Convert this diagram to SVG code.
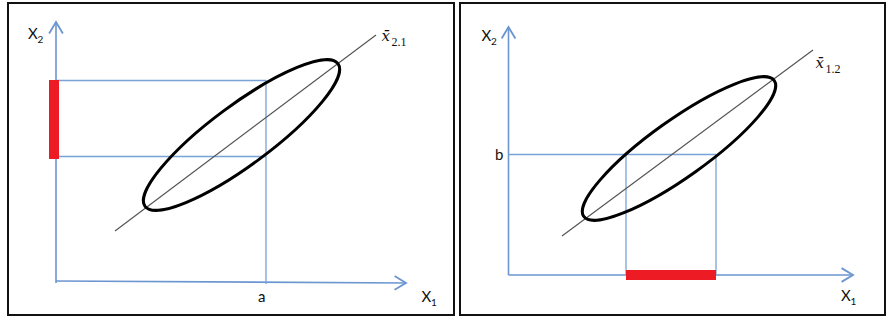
<svg xmlns="http://www.w3.org/2000/svg" width="888" height="322" viewBox="0 0 888 322">
<style>
.frame{fill:#fff;stroke:#111;stroke-width:2}
.axis{fill:none;stroke:#6b96d0;stroke-width:1.6}
.guide{fill:none;stroke:#7aa2d6;stroke-width:1.3}
.ell{fill:none;stroke:#000;stroke-width:3}
.reg{stroke:#555;stroke-width:1.2}
.bar{fill:#ed1c24}
.lbl{font-family:Lato,"Open Sans",sans-serif;font-size:15px;fill:#111}
.sub{font-family:Lato,"Open Sans",sans-serif;font-size:10px;fill:#111}
.xb{font-family:"DejaVu Serif",serif;font-style:italic;font-size:15px;fill:#111}
.xbs{font-family:"Liberation Serif",serif;font-size:12px;fill:#111}
</style>
<defs>
<marker id="arr" markerUnits="userSpaceOnUse" markerWidth="16" markerHeight="16" refX="11" refY="7" orient="auto" viewBox="0 0 14 14">
<path d="M1,1 L11,7 L1,13" fill="none" stroke="#6b96d0" stroke-width="1.6"/>
</marker>
</defs>
<rect width="888" height="322" fill="#fff"/>
<g id="panel-left">
<rect class="frame" x="8" y="3" width="446" height="312"/>
<g id="connectors-left">
<line class="axis" x1="56" y1="283" x2="56" y2="22" marker-end="url(#arr)"/>
<line class="axis" x1="56" y1="281" x2="406" y2="283" marker-end="url(#arr)"/>
<polyline class="guide" points="56,80.5 266,80.5 266,284"/>
<line class="guide" x1="56" y1="156.5" x2="266" y2="156.5"/>
<line class="reg" x1="115" y1="231" x2="376" y2="35"/>
</g>
<rect id="bar-left" class="bar" x="49" y="80" width="10" height="79"/>
<ellipse id="ellipse-left" class="ell" cx="241.5" cy="135" rx="120" ry="30" transform="rotate(-36.5 241.5 135)"/>
<text class="lbl" x="28" y="38.5">X</text><text class="sub" x="37.5" y="42.5">2</text>
<text class="lbl" x="258" y="302">a</text>
<text class="lbl" x="421.5" y="302">X</text><text class="sub" x="431" y="305.5">1</text>
<text class="xb" x="381.5" y="41">x̄</text><text class="xbs" x="391.5" y="46">2.1</text>
</g>
<g id="panel-right">
<rect class="frame" x="460" y="3" width="425" height="312"/>
<g id="connectors-right">
<line class="axis" x1="508.5" y1="275" x2="508.5" y2="27" marker-end="url(#arr)"/>
<line class="axis" x1="508.5" y1="275" x2="853" y2="275" marker-end="url(#arr)"/>
<line class="guide" x1="508.5" y1="154.5" x2="716" y2="154.5"/>
<line class="guide" x1="626" y1="154.5" x2="626" y2="275"/>
<line class="guide" x1="716" y1="154.5" x2="716" y2="275"/>
<line class="reg" x1="562" y1="236" x2="813" y2="50"/>
</g>
<rect id="bar-right" class="bar" x="626" y="270" width="90" height="10"/>
<ellipse id="ellipse-right" class="ell" cx="679" cy="148.5" rx="117" ry="28.5" transform="rotate(-35.5 679 148.5)"/>
<text class="lbl" x="481.5" y="41">X</text><text class="sub" x="491" y="44.5">2</text>
<text class="lbl" x="495" y="159.5">b</text>
<text class="lbl" x="841" y="301">X</text><text class="sub" x="850.5" y="304.5">1</text>
<text class="xb" x="815.5" y="68">x̄</text><text class="xbs" x="825.5" y="73">1.2</text>
</g>
</svg>
